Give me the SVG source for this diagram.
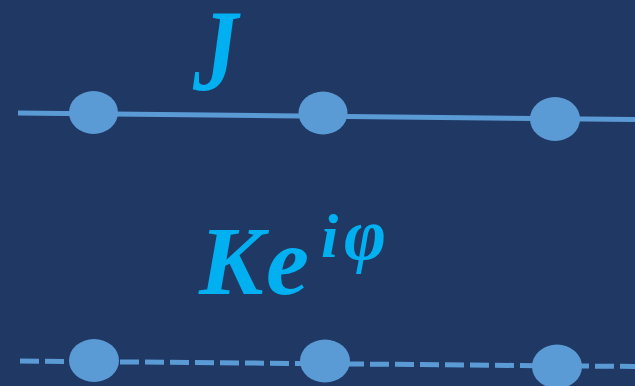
<svg xmlns="http://www.w3.org/2000/svg" width="635" height="386" viewBox="0 0 635 386">
<style>
.ln{stroke:#5B9BD5;stroke-width:5;fill:none}
.dash{stroke-dasharray:19 6}
.nd{fill:#5B9BD5}
.t{fill:#00B0F0;font-family:"Liberation Serif",serif;font-weight:bold;font-style:italic}
</style>
<rect width="635" height="386" fill="#203864"/>
<g id="connectors">
<line class="ln" x1="18" y1="113" x2="635" y2="119.5"/>
<line class="ln dash" x1="20" y1="361" x2="635" y2="366.5"/>
</g>
<g id="n1"><ellipse class="nd" cx="93.5" cy="112.5" rx="24.5" ry="21.5"/></g>
<g id="n2"><ellipse class="nd" cx="323" cy="113" rx="24.5" ry="21.5"/></g>
<g id="n3"><ellipse class="nd" cx="555" cy="119" rx="25" ry="22"/></g>
<g id="n4"><ellipse class="nd" cx="94" cy="360.5" rx="25" ry="21.5"/></g>
<g id="n5"><ellipse class="nd" cx="325" cy="361" rx="25" ry="21.5"/></g>
<g id="n6"><ellipse class="nd" cx="557" cy="366.5" rx="25" ry="22"/></g>
<g id="label-J"><text class="t" font-size="116" transform="translate(193,90) scale(0.78,1)">J</text></g>
<g id="label-K"><text class="t" font-size="97" y="294"><tspan x="199">K</tspan><tspan x="266">e</tspan><tspan font-size="62" x="321" y="257">i</tspan><tspan font-size="72" x="344" y="259">φ</tspan></text></g>
</svg>
